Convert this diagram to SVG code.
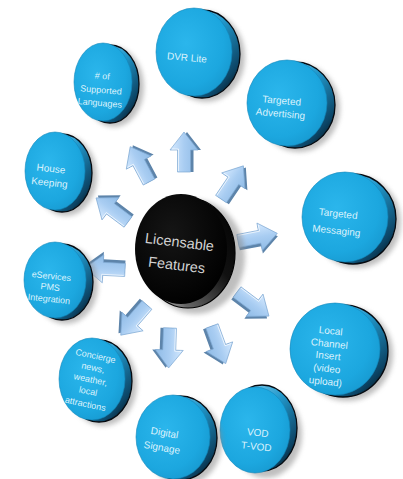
<svg xmlns="http://www.w3.org/2000/svg" width="403" height="479" viewBox="0 0 403 479">
<defs>
  <style>
    .shadow{fill:#8a8a8a;opacity:.55;filter:url(#blur)}
    .rim{fill:url(#rimGrad);stroke:#050a10;stroke-width:1.3}
    .face{fill:url(#faceGrad);stroke:#1187bb;stroke-width:.6}
    .lbl{font-family:"Liberation Sans","DejaVu Sans",sans-serif;font-size:10px;fill:#dcf2fc;text-anchor:middle}
    .sm{font-size:9px}
    .clbl{font-family:"Liberation Sans","DejaVu Sans",sans-serif;font-size:14.5px;fill:#d2d2d2;text-anchor:middle}
  </style>
  <filter id="blur" x="-30%" y="-30%" width="160%" height="160%"><feGaussianBlur stdDeviation="2.5"/></filter>
  <radialGradient id="faceGrad" cx="40%" cy="40%" r="70%">
    <stop offset="0" stop-color="#2bb6ec"/>
    <stop offset=".7" stop-color="#1ca7df"/>
    <stop offset="1" stop-color="#1697ce"/>
  </radialGradient>
  <linearGradient id="rimGrad" x1="0" y1="0" x2="1" y2="1">
    <stop offset="0" stop-color="#a8e4ff"/>
    <stop offset=".45" stop-color="#2399cc"/>
    <stop offset=".8" stop-color="#0c4566"/>
    <stop offset="1" stop-color="#000"/>
  </linearGradient>
  <radialGradient id="blackFace" cx="40%" cy="35%" r="70%">
    <stop offset="0" stop-color="#151515"/>
    <stop offset="1" stop-color="#000"/>
  </radialGradient>
  <linearGradient id="blackRim" x1="0" y1="1" x2="1" y2="0">
    <stop offset="0" stop-color="#ffffff"/>
    <stop offset=".25" stop-color="#666"/>
    <stop offset=".6" stop-color="#111"/>
    <stop offset="1" stop-color="#000"/>
  </linearGradient>
  <linearGradient id="arrGrad" x1="0" y1="0" x2="0" y2="1">
    <stop offset="0" stop-color="#d6eaff"/>
    <stop offset=".5" stop-color="#a9cdf2"/>
    <stop offset="1" stop-color="#8fbbe6"/>
  </linearGradient>
  <g id="arr">
    <polygon points="0,-3.5 22,-3.5 22,-11 40,3 22,17 22,9.5 0,9.5" fill="#5d84aa"/>
    <polygon points="0,-6.5 22,-6.5 22,-14 40,0 22,14 22,6.5 0,6.5" fill="url(#arrGrad)" stroke="#7fa9d3" stroke-width=".7"/>
    <polyline points="1,-5.5 23,-5.5 23,-12" fill="none" stroke="#fff" stroke-width=".8" opacity=".8"/>
  </g>
  <clipPath id="cConc"><ellipse cx="92" cy="379" rx="33" ry="41"/></clipPath>
</defs>
<rect width="403" height="479" fill="#fff"/>

<g id="connectors">
  <use href="#arr" transform="translate(149,182) rotate(-118)"/>
  <use href="#arr" transform="translate(184,172) rotate(-90)"/>
  <use href="#arr" transform="translate(221,199) rotate(-56)"/>
  <use href="#arr" transform="translate(238,241) rotate(-11)"/>
  <use href="#arr" transform="translate(237,292) rotate(37)"/>
  <use href="#arr" transform="translate(212,326) rotate(70)"/>
  <use href="#arr" transform="translate(170,328) rotate(92)"/>
  <use href="#arr" transform="translate(147,305) rotate(131)"/>
  <use href="#arr" transform="translate(125,270) rotate(183)"/>
  <use href="#arr" transform="translate(128,222) rotate(217)"/>
</g>

<g id="center">
  <ellipse class="shadow" cx="195" cy="257" rx="50" ry="57"/>
  <ellipse cx="188" cy="253" rx="47" ry="55" fill="url(#blackRim)" stroke="#000" stroke-width="1.2"/>
  <ellipse cx="181" cy="249" rx="46" ry="55" fill="url(#blackFace)"/>
  <g transform="rotate(7 178 255)">
    <text class="clbl" x="178" y="247">Licensable</text>
    <text class="clbl" x="178" y="270">Features</text>
  </g>
</g>

<g id="dvr">
  <ellipse class="shadow" cx="206" cy="57" rx="39" ry="45"/>
  <ellipse class="rim" cx="202" cy="54" rx="38" ry="44"/>
  <ellipse class="face" cx="194" cy="52" rx="38" ry="44"/>
  <text class="lbl" x="187" y="61" transform="rotate(5 187 57)">DVR Lite</text>
</g>

<g id="languages">
  <ellipse class="shadow" cx="114" cy="87" rx="30" ry="40"/>
  <ellipse class="rim" cx="110" cy="84" rx="29" ry="39"/>
  <ellipse class="face" cx="103" cy="82" rx="29" ry="39"/>
  <g transform="rotate(5 101 90)">
    <text class="lbl sm" x="101" y="79">#  of</text>
    <text class="lbl sm" x="101" y="93">Supported</text>
    <text class="lbl sm" x="101" y="106">Languages</text>
  </g>
</g>

<g id="advertising">
  <ellipse class="shadow" cx="299" cy="108" rx="41" ry="44"/>
  <ellipse class="rim" cx="295" cy="105" rx="40" ry="43"/>
  <ellipse class="face" cx="287" cy="103" rx="40" ry="43"/>
  <g transform="rotate(5 281 108)">
    <text class="lbl" x="281" y="104">Targeted</text>
    <text class="lbl" x="281" y="117">Advertising</text>
  </g>
</g>

<g id="messaging">
  <ellipse class="shadow" cx="357" cy="222" rx="44" ry="46"/>
  <ellipse class="rim" cx="353" cy="219" rx="43" ry="45"/>
  <ellipse class="face" cx="345" cy="217" rx="43" ry="45"/>
  <g transform="rotate(6 337 225)">
    <text class="lbl" x="337" y="217">Targeted</text>
    <text class="lbl" x="337" y="234">Messaging</text>
  </g>
</g>

<g id="local">
  <ellipse class="shadow" cx="347" cy="354" rx="46" ry="47"/>
  <ellipse class="rim" cx="343" cy="351" rx="45" ry="46"/>
  <ellipse class="face" cx="335" cy="349" rx="45" ry="46"/>
  <g transform="rotate(6 328 357)">
    <text class="lbl" x="328" y="334">Local</text>
    <text class="lbl" x="328" y="347">Channel</text>
    <text class="lbl" x="328" y="359">Insert</text>
    <text class="lbl" x="328" y="372">(video</text>
    <text class="lbl" x="328" y="385">upload)</text>
  </g>
</g>

<g id="vod">
  <ellipse class="shadow" cx="266" cy="434" rx="36" ry="44"/>
  <ellipse class="rim" cx="262" cy="428" rx="35" ry="43"/>
  <ellipse class="face" cx="255" cy="430" rx="35" ry="43"/>
  <g transform="rotate(6 257 441)">
    <text class="lbl" x="257" y="436">VOD</text>
    <text class="lbl" x="257" y="450">T-VOD</text>
  </g>
</g>

<g id="signage">
  <ellipse class="shadow" cx="184" cy="442" rx="38" ry="43"/>
  <ellipse class="rim" cx="180" cy="438" rx="37" ry="42"/>
  <ellipse class="face" cx="173" cy="437" rx="37" ry="42"/>
  <g transform="rotate(10 163 442)">
    <text class="lbl" x="163" y="436">Digital</text>
    <text class="lbl" x="163" y="451">Signage</text>
  </g>
</g>

<g id="concierge">
  <ellipse class="shadow" cx="103" cy="384" rx="34" ry="42"/>
  <ellipse class="rim" cx="99" cy="381" rx="33" ry="41"/>
  <ellipse class="face" cx="92" cy="379" rx="33" ry="41"/>
  <g clip-path="url(#cConc)">
    <g transform="rotate(12 88 382)">
      <text class="lbl sm" x="90" y="358">Concierge</text>
      <text class="lbl sm" x="90" y="370">news,</text>
      <text class="lbl sm" x="90" y="382">weather,</text>
      <text class="lbl sm" x="90" y="394">local</text>
      <text class="lbl sm" x="90" y="407">attractions</text>
    </g>
  </g>
</g>

<g id="eservices">
  <ellipse class="shadow" cx="66" cy="285" rx="32" ry="39"/>
  <ellipse class="rim" cx="62" cy="282" rx="31" ry="38"/>
  <ellipse class="face" cx="55" cy="280" rx="31" ry="38"/>
  <g transform="rotate(6 50 289)">
    <text class="lbl sm" x="50" y="279">eServices</text>
    <text class="lbl sm" x="50" y="290">PMS</text>
    <text class="lbl sm" x="50" y="302">Integration</text>
  </g>
</g>

<g id="housekeeping">
  <ellipse class="shadow" cx="66" cy="176" rx="31" ry="40"/>
  <ellipse class="rim" cx="62" cy="173" rx="30" ry="39"/>
  <ellipse class="face" cx="55" cy="171" rx="30" ry="39"/>
  <g transform="rotate(6 50 178)">
    <text class="lbl" x="50" y="172">House</text>
    <text class="lbl" x="50" y="186">Keeping</text>
  </g>
</g>
</svg>
